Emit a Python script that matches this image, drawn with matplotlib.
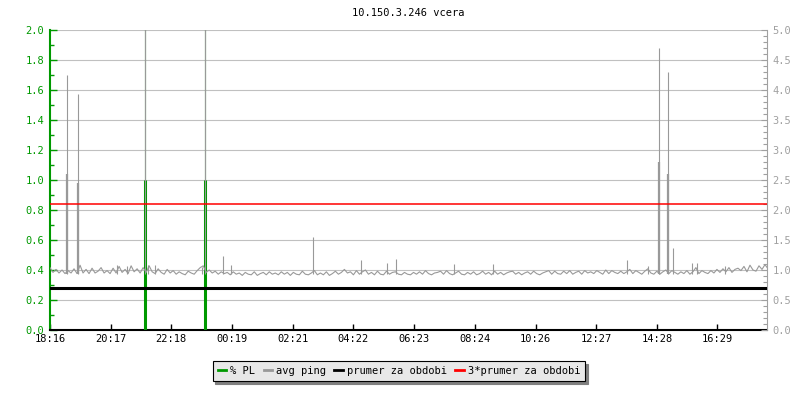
import matplotlib
matplotlib.use('Agg')
import matplotlib.pyplot as plt
from matplotlib.lines import Line2D
from matplotlib.ticker import MultipleLocator, FormatStrFormatter
import numpy as np

title = '10.150.3.246 vcera'
tick_labels = ['18:16', '20:17', '22:18', '00:19', '02:21', '04:22',
               '06:23', '08:24', '10:26', '12:27', '14:28', '16:29']
step_min = 6

# avg ping [ms], jeden vzorek kazdych 6 minut od 18:16
ping_ms = [
    1.04, 0.96, 1.01, 0.95, 1.00, 0.94, 0.99, 0.95, 1.02, 0.94,
    1.08, 0.95, 1.01, 0.94, 1.03, 0.95, 0.98, 1.04, 0.95, 0.99,
    0.94, 1.03, 0.95, 1.06, 0.96, 1.01, 0.94, 1.07, 0.97, 1.02,
    0.95, 1.04, 0.96, 1.07, 0.97, 0.94, 1.02, 0.96, 0.93, 1.01,
    0.95, 0.99, 0.93, 0.97, 0.94, 0.92, 0.98, 0.95, 0.93, 0.99,
    1.04, 1.07, 0.96, 1.00, 0.95, 0.98, 0.93, 0.97, 0.94, 0.96,
    0.92, 0.97, 0.93, 0.95, 0.91, 0.96, 0.93, 0.92, 0.97, 0.91,
    0.94, 0.96, 0.92, 0.97, 0.93, 0.95, 0.92, 0.97, 0.93, 0.96,
    0.91, 0.96, 0.93, 0.92, 0.98, 0.93, 0.92, 0.95, 0.99, 0.92,
    0.95, 0.92, 0.97, 0.91, 0.94, 0.98, 0.93, 0.96, 1.01, 0.95,
    0.97, 0.92, 0.99, 0.93, 0.97, 1.00, 0.93, 0.96, 0.92, 0.98,
    0.93, 0.92, 0.98, 0.93, 0.96, 0.97, 0.93, 0.92, 0.96, 0.93,
    0.92, 0.96, 0.93, 0.97, 0.93, 0.99, 0.94, 0.92, 0.95, 0.96,
    0.98, 0.93, 0.99, 0.94, 0.92, 0.95, 0.98, 0.93, 0.92, 0.96,
    0.93, 0.97, 0.92, 0.94, 0.98, 0.93, 0.96, 0.92, 0.98, 0.93,
    0.96, 0.92, 0.95, 0.97, 0.98, 0.93, 0.96, 0.92, 0.95, 0.97,
    0.93, 0.98, 0.94, 0.92, 0.95, 0.97, 0.99, 0.93, 0.98, 0.94,
    0.93, 0.98, 0.94, 0.99, 0.93, 0.96, 0.98, 0.93, 0.99, 0.95,
    0.97, 0.94, 0.99, 0.96, 0.93, 1.00, 0.94, 0.99, 0.96, 0.94,
    0.98, 0.94, 0.97, 1.01, 0.94, 0.99, 0.96, 0.93, 0.98, 1.02,
    0.95, 0.93, 0.98, 0.93, 0.97, 1.00, 0.94, 0.99, 0.96, 0.93,
    0.97, 0.94, 0.99, 0.93, 0.97, 1.04, 0.94, 0.99, 0.96, 0.94,
    0.99, 0.95, 1.01, 0.96, 1.02, 0.97, 1.04, 0.96, 1.01, 1.03,
    0.99, 1.06, 0.97, 1.08, 1.00, 0.98, 1.07, 1.01, 1.09, 1.02,
    1.06,
]

# spicky pingu: minuta od zacatku, vrchol, druhy vzorek (0 = zadny)
spike_min = [33, 55, 134, 154, 190, 196, 210, 304, 310, 345, 361, 525, 622,
             674, 692, 807, 885, 1152, 1194, 1216, 1234, 1244, 1283, 1292, 1349]
spike_top = [4.25, 3.93, 1.08, 1.07, 9.0, 1.09, 1.08, 1.05, 9.0, 1.23, 1.08, 1.55, 1.17,
             1.12, 1.18, 1.10, 1.10, 1.17, 1.06, 4.70, 4.30, 1.37, 1.12, 1.12, 1.07]
spike_body = [2.60, 2.45, 0, 0, 0, 0, 0, 0, 0, 0, 0, 0, 0,
              0, 0, 0, 0, 0, 0, 2.80, 2.60, 0, 0, 0, 0]

# packet loss [%]
pl_min = [190, 310]
pl_value = [1.0, 1.0]
pl_peak = [3.0, 3.0]

prumer = 0.7
x_max = 1432

GREEN = '#009900'
GRAY = '#999999'
FONT = 'DejaVu Sans Mono'
FS = 7.5

plt.rcParams['font.family'] = FONT
plt.rcParams['font.size'] = FS

fig = plt.figure(figsize=(8, 4), dpi=100)
ax = fig.add_axes([50 / 800, 70 / 400, 717 / 800, 300 / 400])
ax2 = ax.twinx()

# casy ticku z popisku
h0, m0 = map(int, tick_labels[0].split(':'))
tick_min = []
for lab in tick_labels:
    h, m = map(int, lab.split(':'))
    tick_min.append(((h * 60 + m) - (h0 * 60 + m0)) % 1440)

t = np.arange(len(ping_ms)) * step_min

# leva osa - PL
ax.set_xlim(0, x_max)
ax.set_ylim(0, 2.0)
ax.vlines(pl_min, 0, pl_peak, color=GREEN, lw=0.8, zorder=3)
ax.vlines(pl_min, 0, pl_value, color=GREEN, lw=2.2, zorder=3)
ax.yaxis.set_major_locator(MultipleLocator(0.2))
ax.yaxis.set_minor_locator(MultipleLocator(0.1))
ax.yaxis.set_major_formatter(FormatStrFormatter('%.1f'))
ax.grid(axis='y', which='major', color='#c0c0c0', lw=0.8)
ax.set_axisbelow(True)
ax.tick_params(axis='y', which='both', direction='in', colors=GREEN, labelcolor=GREEN, pad=4)
ax.tick_params(axis='y', which='major', length=5, width=1)
ax.tick_params(axis='y', which='minor', length=3, width=1)
ax.set_xticks(tick_min)
ax.set_xticklabels(tick_labels)
ax.tick_params(axis='x', direction='in', length=4, width=1, color='black', pad=3)
ax.spines['left'].set_color(GREEN)
ax.spines['left'].set_linewidth(1.5)
ax.spines['bottom'].set_linewidth(1.5)
ax.spines['top'].set_visible(False)
ax.spines['right'].set_visible(False)

# prava osa - ping
ax2.set_ylim(0, 5.0)
ax2.plot(t, ping_ms, color=GRAY, lw=0.8, zorder=2)
ax2.vlines(spike_min, 0.93, spike_top, color=GRAY, lw=0.8, zorder=2)
body_x = [m for m, b in zip(spike_min, spike_body) if b > 0]
body_y = [b for b in spike_body if b > 0]
ax2.vlines(body_x, 0.93, body_y, color=GRAY, lw=1.6, zorder=2)
ax2.axhline(prumer, color='black', lw=2.2, zorder=4)
ax2.axhline(3 * prumer, color='red', lw=1.1, zorder=4)
ax2.yaxis.set_major_locator(MultipleLocator(0.5))
ax2.yaxis.set_minor_locator(MultipleLocator(0.1))
ax2.yaxis.set_major_formatter(FormatStrFormatter('%.1f'))
ax2.tick_params(axis='y', which='both', direction='in', colors='#a0a0a0', labelcolor='#a0a0a0', pad=4)
ax2.tick_params(axis='y', which='major', length=4, width=0.8)
ax2.tick_params(axis='y', which='minor', length=3, width=0.8)
for s in ['left', 'top', 'bottom']:
    ax2.spines[s].set_visible(False)
ax2.spines['right'].set_color('#a0a0a0')
ax2.spines['right'].set_linewidth(0.8)

fig.text(408.5 / 800, 1 - 13 / 400, title, ha='center', va='center', fontsize=FS)

handles = [Line2D([], [], color=c, lw=2) for c in [GREEN, GRAY, 'black', 'red']]
names = ['% PL', 'avg ping', 'prumer za obdobi', '3*prumer za obdobi']
leg = fig.legend(handles, names, ncol=4, loc='center', bbox_to_anchor=(399 / 800, 1 - 371 / 400),
                 frameon=True, fancybox=False, facecolor='#e8e8e8', edgecolor='black', framealpha=1,
                 shadow={'color': '#808080', 'alpha': 1}, handlelength=0.8, handletextpad=0.4,
                 columnspacing=0.8, borderpad=0.5, fontsize=FS)
leg.get_frame().set_linewidth(0.8)

fig.savefig('out.png', dpi=100)
